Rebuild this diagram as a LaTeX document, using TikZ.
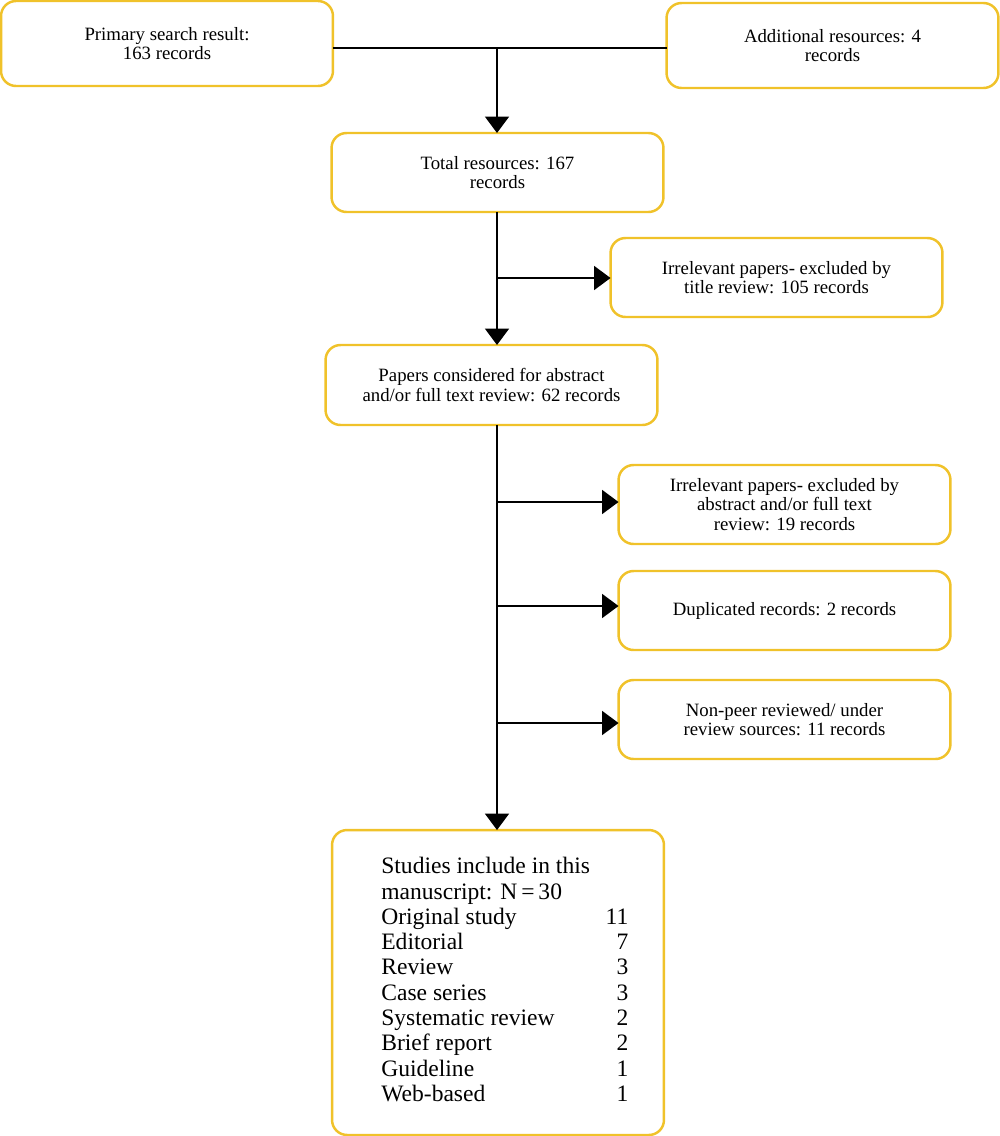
\documentclass[tikz,border=0pt]{standalone}
\usepackage{fontspec}
\setmainfont{Liberation Serif}
\usetikzlibrary{arrows.meta}
\definecolor{gold}{HTML}{F0C22A}
\begin{document}
\begin{tikzpicture}[x=0.02cm,y=-0.02cm,
  box/.style={draw=gold,line width=1.4pt,rounded corners=0.3cm,fill=white,
    minimum width=6.64cm,minimum height=1.58cm,inner sep=0pt,outer sep=0pt,
    align=center,font=\fontsize{10.7}{11}\selectfont},
  conn/.style={draw=black,line width=1.1pt},
  arr/.style={conn,-{Triangle[length=0.33cm,width=0.48cm]}}]
\useasboundingbox (0,0) rectangle (1000,1136);
\node[box,minimum height=1.70cm] (prim) at (167,43.5) {Primary search result:\\163 records};
\node[box,minimum height=1.70cm] (add) at (832.5,45.5) {Additional resources: 4\\records};
\node[box] (total) at (497.5,172.5) {Total resources: 167\\records};
\node[box] (title) at (776.5,277.5) {Irrelevant papers- excluded by\\title review: 105 records};
\node[box,minimum height=1.60cm] (papers) at (491.5,385) {Papers considered for abstract\\and/or full text review: 62 records};
\node[box] (abs) at (784.5,504.5) {Irrelevant papers- excluded by\\abstract and/or full text\\review: 19 records};
\node[box] (dup) at (784.5,610.5) {Duplicated records: 2 records};
\node[box] (peer) at (784.5,719.5) {Non-peer reviewed/ under\\review sources: 11 records};
\node[box,minimum width=6.64cm,minimum height=6.1cm] (stud) at (498,982.5) {};
\node[anchor=north west,inner sep=0pt,align=left,font=\fontsize{13.4}{14.4}\selectfont] (studtxt) at (381,857)
 {Studies include in this\\
  manuscript: N\,=\,30\\
  \makebox[4.94cm][l]{Original study\hfill 11}\\
  \makebox[4.94cm][l]{Editorial\hfill 7}\\
  \makebox[4.94cm][l]{Review\hfill 3}\\
  \makebox[4.94cm][l]{Case series\hfill 3}\\
  \makebox[4.94cm][l]{Systematic review\hfill 2}\\
  \makebox[4.94cm][l]{Brief report\hfill 2}\\
  \makebox[4.94cm][l]{Guideline\hfill 1}\\
  \makebox[4.94cm][l]{Web-based\hfill 1}};
\coordinate (j1) at (497,48);
\coordinate (j2) at (497,278);
\coordinate (j3) at (497,502);
\coordinate (j4) at (497,606);
\coordinate (j5) at (497,723);
\draw[conn] (prim.east |- j1) -- (add.west |- j1);
\draw[arr] (j1) -- (j1 |- total.north);
\draw[arr] (j1 |- total.south) -- (j1 |- papers.north);
\draw[arr] (j2) -- (title.west |- j2);
\draw[arr] (j1 |- papers.south) -- (j1 |- stud.north);
\draw[arr] (j3) -- (abs.west |- j3);
\draw[arr] (j4) -- (dup.west |- j4);
\draw[arr] (j5) -- (peer.west |- j5);
\end{tikzpicture}
\end{document}
